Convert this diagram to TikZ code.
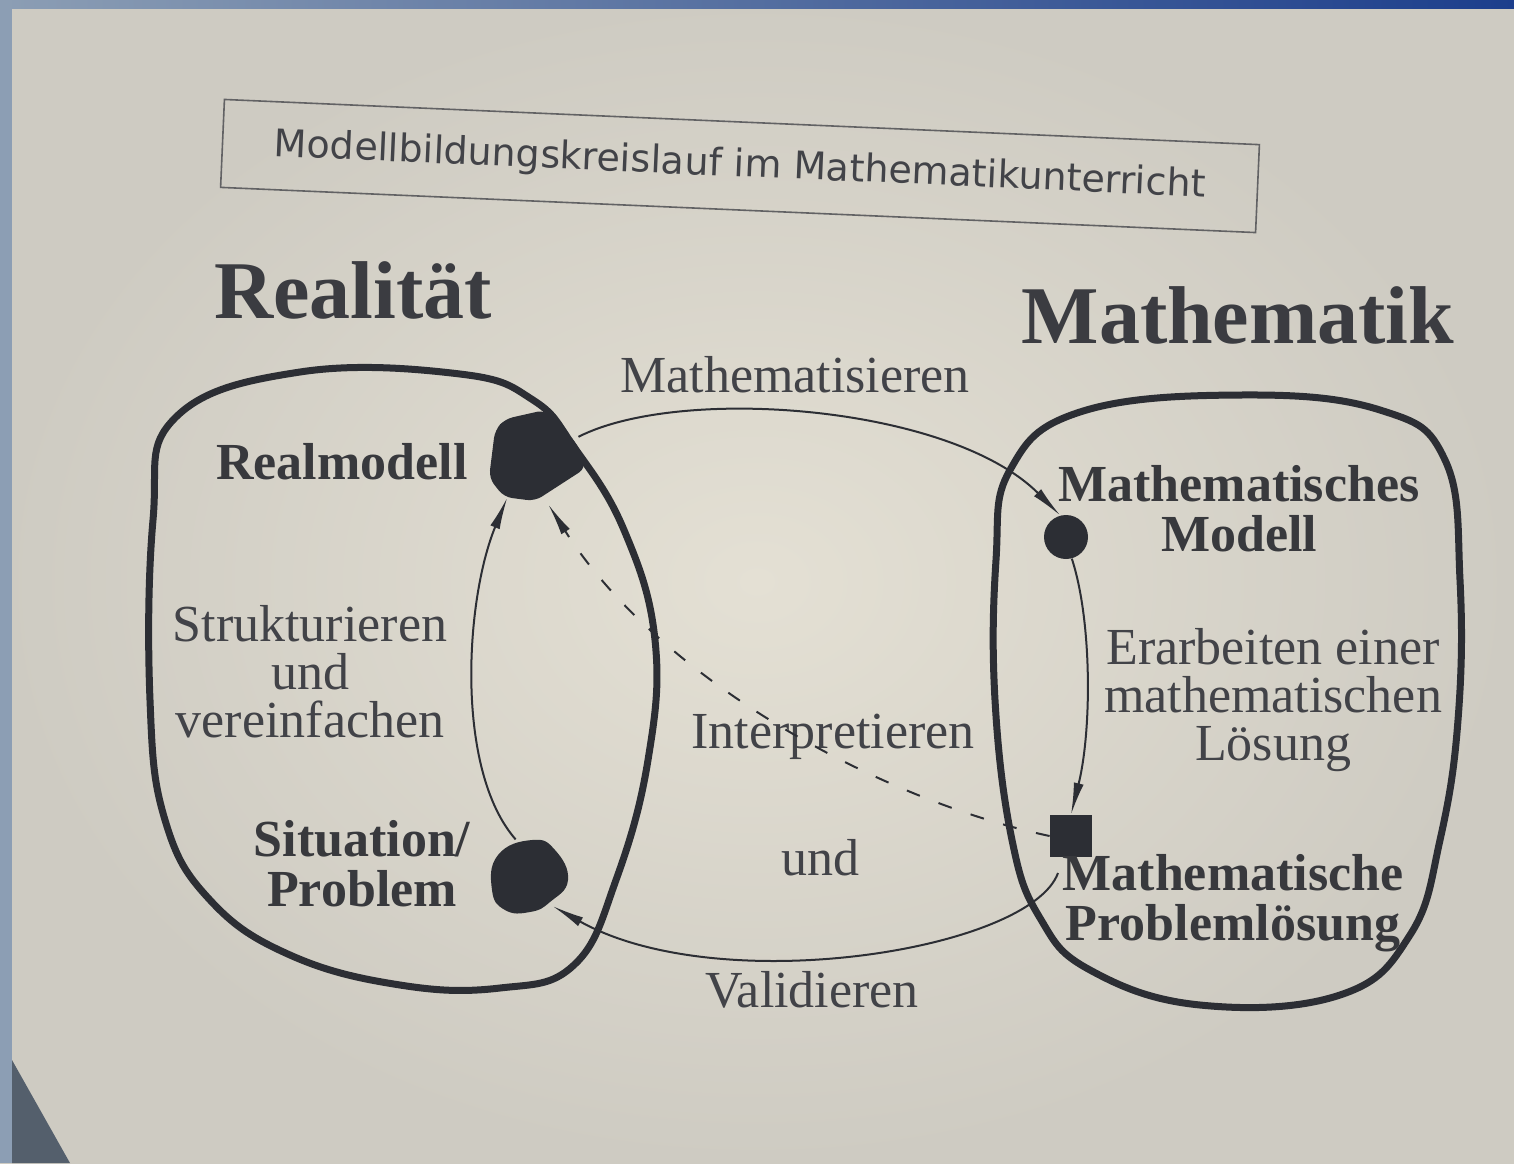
\documentclass[tikz,border=0pt]{standalone}
\usepackage{fontspec}
\setmainfont{Liberation Serif}
\newfontfamily\handfont{DejaVu Sans}
\usetikzlibrary{arrows.meta, positioning}

\definecolor{paper}{RGB}{228,224,212}
\definecolor{paperdark}{RGB}{206,203,194}
\definecolor{ink}{RGB}{44,46,52}
\definecolor{print}{RGB}{66,67,72}
\definecolor{slideblue}{RGB}{28,62,140}
\definecolor{slidegrey}{RGB}{140,158,180}

\begin{document}
\begin{tikzpicture}[
        x=0.5pt, y=-0.5pt,
        >={Latex[length=16pt,width=5pt]},
        every node/.style={text=print, inner sep=0pt},
        region/.style={draw=ink, line width=3.5pt},
        spot/.style={fill=ink, draw=none},
        anchorspot/.style={circle, minimum size=#1},
        conn/.style={draw=ink, line width=1pt, ->},
        dashconn/.style={conn, dash pattern=on 7pt off 10pt},
        heading/.style={font=\fontsize{41}{45}\selectfont\bfseries, text=print!90!black},
        tag/.style={font=\fontsize{26}{25}\selectfont\bfseries, align=center, text=print!85!black},
        verb/.style={font=\fontsize{26}{24}\selectfont, align=center}
    ]
        % photo background
        \shade[inner color=paper, outer color=paperdark] (0,0) rectangle (1514,1163);
        \shade[left color=slidegrey, right color=slideblue] (0,0) rectangle (1514,8);
        \fill[slidegrey] (0,0) rectangle (12,1163);
        \fill[slidegrey!60!black] (12,1060) -- (70,1163) -- (12,1163) -- cycle;

        % title box
        \node[draw=print!80!paper, line width=0.8pt, rotate=-2.5,
              minimum width=518pt, minimum height=44pt,
              font=\handfont\fontsize{19}{22}\selectfont] (title) at (740,166)
              {Modellbildungskreislauf im Mathematikunterricht};

        \node[heading] (real) at (353,290) {Realität};
        \node[heading] (math) at (1238,315) {Mathematik};

        % the two worlds
        \draw[region] plot[smooth cycle, tension=0.7] coordinates {
            (175,418) (300,372) (460,374) (533,400) (574,447) (624,530)
            (655,640) (648,760) (616,880) (574,965) (500,988) (400,985)
            (290,955) (210,900) (165,820) (150,700) (153,520)};
        \draw[region] plot[smooth cycle, tension=0.7] coordinates {
            (1010,470) (1080,412) (1240,395) (1380,410) (1445,460)
            (1460,580) (1458,720) (1440,840) (1410,935) (1340,995)
            (1200,1005) (1090,970) (1040,918) (1012,840) (995,700) (996,560)};

        % spots
        \fill[spot, rounded corners=4pt] (505,419) -- (545,410) -- (578,445)
            -- (586,468) -- (535,501) -- (504,497) -- (489,478) -- (495,430) -- cycle;
        \fill[spot] plot[smooth cycle, tension=0.8] coordinates {
            (532,840) (555,850) (568,880) (550,902) (530,912) (505,910) (492,890) (498,855)};
        \node[anchorspot=48pt] (rm) at (535,458) {};
        \node[anchorspot=38pt] (sit) at (530,875) {};
        \node[circle, fill=ink, minimum size=22pt] (dot) at (1066,537) {};
        \node[fill=ink, minimum size=21pt] (sq) at (1071,836) {};
        \coordinate (vstart) at (1058,873);

        % labels
        \node[tag] (rmlabel) at (342,462) {Realmodell};
        \node[tag] (sitlabel) at (362,864) {Situation/\\Problem};
        \node[tag] (dotlabel) at (1239,509) {Mathematisches\\Modell};
        \node[tag] (sqlabel) at (1233,903) {Mathematische\\Problemlösung};

        \node[verb] (mathem) at (795,375) {Mathematisieren};
        \node[verb] (struk) at (310,672) {Strukturieren\\und\\vereinfachen};
        \node[verb] (erarb) at (1273,700) {Erarbeiten einer\\mathematischen\\Lösung};
        \node[verb] (interp) at (833,737) {Interpretieren};
        \node[verb] (und) at (820,858) {und};
        \node[verb] (valid) at (812,990) {Validieren};

        % cycle
        \draw[conn] (rm.26) .. controls (680,385) and (950,405) .. (dot.105);
        \draw[conn] (dot.-75) .. controls (1092,620) and (1092,730) .. (sq.north);
        \draw[dashconn] (sq.west) .. controls (880,800) and (660,680) .. (rm.-74);
        \draw[conn] (vstart) .. controls (1030,950) and (720,1000) .. (sit.-54);
        \draw[conn] (sit.112) .. controls (455,770) and (465,600) .. (rm.-125);
    \end{tikzpicture}
\end{document}
